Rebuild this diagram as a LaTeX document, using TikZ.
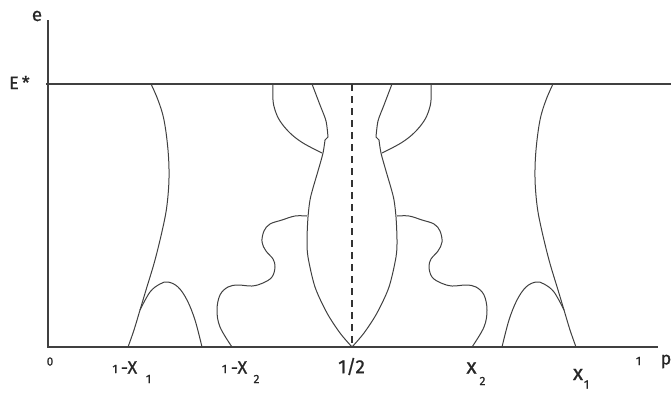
\documentclass[tikz,border=0pt]{standalone}
\usepackage{fontspec}
\setmainfont{Fira Sans}[FakeBold=0.7]
\begin{document}
\begin{tikzpicture}[x=1pt,y=-1pt,
  axis/.style={line width=1.1pt,draw=black!75},
  curve/.style={line width=1pt,draw=black!75},
  dashline/.style={line width=2.2pt,draw=black!80,dash pattern=on 7pt off 5pt},
  lbl/.style={inner sep=0pt,text=black!85,font=\fontsize{18}{18}\selectfont},
  sml/.style={inner sep=0pt,text=black!85,font=\fontsize{12}{12}\selectfont}]
\useasboundingbox (0,0) rectangle (671,392);
\newcommand\halfdrawing{%
  % outer curve
  \draw[curve] plot[smooth,tension=0.6] coordinates {(151,84) (158,100) (164,120) (168,150) (169,178) (167,205) (163,227) (155,260) (146,290) (140,310) (134,330) (128,347)};
  % small arch
  \draw[curve] plot[smooth,tension=0.6] coordinates {(140,310) (150,292) (160,284) (168,282) (178,287) (187,300) (195,320) (202,347)};
  % neck, upper part
  \draw[curve] plot[smooth,tension=0.5] coordinates {(312,84) (320,105) (326,121) (328,137)} -- (325,140);
  % neck, lower part and lens side
  \draw[curve] plot[smooth,tension=0.5] coordinates {(325,140) (323,153) (318,171) (313,188) (310,200) (308,217) (307,240) (308,257) (315,287) (327,313) (340,333) (352,347)};
  % bowl
  \draw[curve] plot[smooth,tension=0.6] coordinates {(273,84) (273,100) (275,110) (280,121) (290,133) (303,143) (322,153)};
  % wavy curve
  \draw[curve] plot[smooth,tension=0.6] coordinates {(307,216) (295,216) (282,220) (270,224) (264,231) (262,242) (266,251) (273,259) (275,267) (272,277) (263,283) (252,286) (238,285) (228,287) (220,295) (217,310) (220,327) (232,347)};
}
% axes
\coordinate (O) at (48,347);
\coordinate (ytop) at (48,20);
\coordinate (xend) at (658,347);
\coordinate (Es) at (46,84);
\coordinate (Ee) at (671,84);
\draw[axis] (ytop) -- (O) -- (xend);
\draw[axis] (Es) -- (Ee);
% curves, left half and mirrored right half
\begin{scope}
  \halfdrawing
\end{scope}
\begin{scope}[shift={(704,0)},xscale=-1]
  \halfdrawing
\end{scope}
% dashed line
\coordinate (dtop) at (352,84);
\coordinate (dbot) at (352,347);
\draw[dashline] (dtop) -- (dbot);
% labels
\node[lbl,font=\fontsize{19}{19}\selectfont] (le) at (37,16) {e};
\node[lbl,anchor=west] (lE) at (9,82.5) {E\,*};
\node[sml] (l0) at (50,361.5) {0};
\node[sml] (la1) at (115,369) {1};
\node[lbl] (la2) at (129,367.5) {-X};
\node[sml] (la3) at (148.5,379) {1};
\node[sml] (lb1) at (224.5,369) {1};
\node[lbl] (lb2) at (239,367.5) {-X};
\node[sml] (lb3) at (256.5,379) {2};
\node[lbl,font=\fontsize{19}{19}\selectfont] (lh) at (351.5,366.5) {1/2};
\node[lbl,font=\fontsize{21}{21}\selectfont] (lc1) at (471.5,368) {x};
\node[sml] (lc2) at (482.5,381) {2};
\node[lbl,font=\fontsize{21}{21}\selectfont] (ld1) at (578,374.5) {x};
\node[sml] (ld2) at (586.5,384.5) {1};
\node[sml] (l1) at (638.5,361) {1};
\node[lbl] (lp) at (666,361.5) {p};
\end{tikzpicture}
\end{document}
